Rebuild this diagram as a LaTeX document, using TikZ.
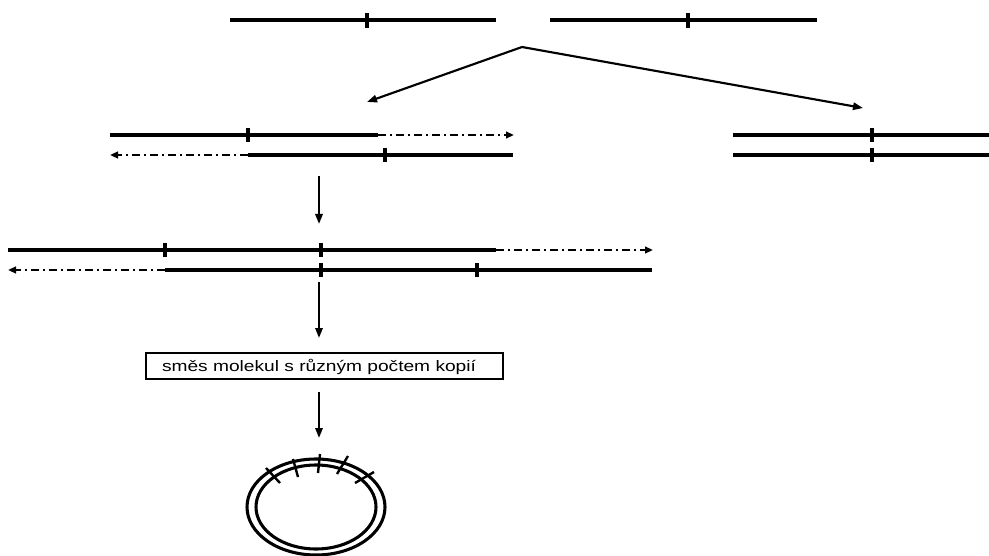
\documentclass[tikz,border=0pt]{standalone}
\usepackage{fontspec}
\setmainfont{Liberation Sans}
\usetikzlibrary{arrows.meta}
\begin{document}
\begin{tikzpicture}[x=0.75pt,y=-0.75pt,
  dna/.style={line width=2.3pt},
  tickmark/.style={line width=2.3pt},
  ext/.style={line width=1.8pt,dash pattern=on 6pt off 3pt on 1.5pt off 3pt,-{Triangle[length=6pt,width=5pt]}},
  flow/.style={line width=1.6pt,-{Triangle[length=7.5pt,width=5.5pt]}},
  ring/.style={line width=2.3pt},
  ringtick/.style={line width=1.8pt}
]
\useasboundingbox (0,0) rectangle (989,556);
% top molecules
\draw[dna] (230,20) -- (496,20);
\draw[tickmark] (367,13) -- (367,28);
\draw[dna] (550,20) -- (817,20);
\draw[tickmark] (688,13) -- (688,28);
% split arrows
\coordinate (apex) at (522,47);
\coordinate (leftend) at (367,102);
\coordinate (rightend) at (863,108);
\draw[flow] (apex) -- (leftend);
\draw[flow] (apex) -- (rightend);
% row 2 left
\draw[dna] (110,135) -- (378,135);
\draw[tickmark] (248,128) -- (248,142);
\coordinate (r2a) at (378,135);
\coordinate (r2b) at (514,135);
\draw[ext] (r2a) -- (r2b);
\draw[dna] (248,155) -- (513,155);
\draw[tickmark] (385,148) -- (385,162);
\coordinate (r2c) at (248,155);
\coordinate (r2d) at (110,155);
\draw[ext] (r2c) -- (r2d);
% row 2 right
\draw[dna] (733,135) -- (989,135);
\draw[dna] (733,155) -- (989,155);
\draw[tickmark] (872,128) -- (872,142);
\draw[tickmark] (872,148) -- (872,162);
% arrow 1
\coordinate (a1s) at (319,176);
\coordinate (a1e) at (319,224);
\draw[flow] (a1s) -- (a1e);
% row 3
\draw[dna] (8,250) -- (496,250);
\draw[tickmark] (165,243) -- (165,257);
\draw[tickmark] (321,243) -- (321,257);
\coordinate (r3a) at (496,250);
\coordinate (r3b) at (653,250);
\draw[ext] (r3a) -- (r3b);
\draw[dna] (165,270) -- (652,270);
\draw[tickmark] (321,263) -- (321,277);
\draw[tickmark] (477,263) -- (477,277);
\coordinate (r3c) at (165,270);
\coordinate (r3d) at (8,270);
\draw[ext] (r3c) -- (r3d);
% arrow 2
\coordinate (a2s) at (319,282);
\coordinate (a2e) at (319,338);
\draw[flow] (a2s) -- (a2e);
% box
\node[draw,line width=1.8pt,minimum width=268pt,minimum height=19.5pt,inner sep=0pt] (mix) at (324.5,366) {};
\node (mixtext) at (319,366.5) {\scalebox{1.26}[1]{\fontsize{11.4pt}{13pt}\selectfont směs molekul s různým počtem kopií}};
% arrow 3
\coordinate (a3s) at (319,392);
\coordinate (a3e) at (319,438);
\draw[flow] (a3s) -- (a3e);
% ring
\draw[ring] (316,507) ellipse [x radius=69, y radius=48];
\draw[ring] (316,507) ellipse [x radius=60, y radius=42];
\draw[ringtick] (266,468) -- (280,483);
\draw[ringtick] (293,459) -- (298,477);
\draw[ringtick] (320,454) -- (318,473);
\draw[ringtick] (348,456) -- (337,474);
\draw[ringtick] (374,472) -- (355,483);
\end{tikzpicture}
\end{document}
